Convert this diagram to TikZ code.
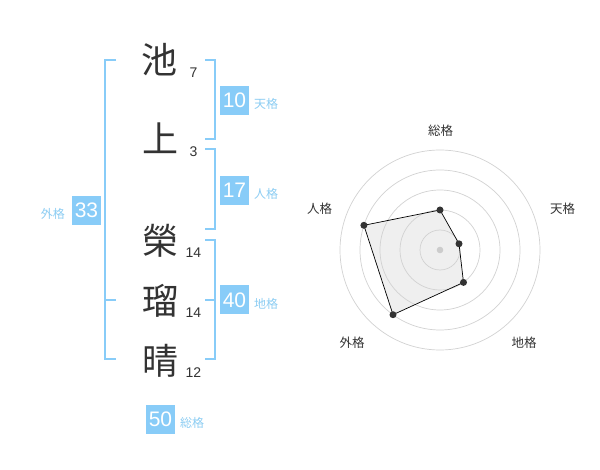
\documentclass[tikz,border=0pt]{standalone}
\usepackage{fontspec}
\setmainfont{Liberation Sans}
\newfontfamily\cjk{Noto Sans CJK JP}
\definecolor{kanjicol}{HTML}{333333}
\definecolor{boxblue}{HTML}{88CCF8}
\definecolor{lblblue}{HTML}{8CCDF3}
\definecolor{ringgray}{HTML}{D2D2D2}
\definecolor{cdotgray}{HTML}{CCCCCC}
\definecolor{polyfill}{HTML}{EFEFEF}
\begin{document}
\begin{tikzpicture}[x=1pt,y=-1pt,
  kanji/.style={font=\cjk\fontsize{36}{36}\selectfont, text=kanjicol, inner sep=0pt},
  strokenum/.style={font=\fontsize{14}{14}\selectfont, text=kanjicol, inner sep=0pt},
  scorebox/.style={fill=boxblue, text=white, minimum width=29pt, minimum height=29pt, inner sep=0pt, font=\fontsize{21}{21}\selectfont},
  kaku/.style={font=\cjk\fontsize{12}{12}\selectfont, text=lblblue, inner sep=0pt},
  bracket/.style={draw=boxblue, line width=2pt},
  ring/.style={draw=ringgray, line width=0.7pt},
  radarlbl/.style={font=\cjk\fontsize{12.5}{12.5}\selectfont, text=kanjicol, inner sep=0pt},
  dotnode/.style={circle, fill=kanjicol, minimum size=7pt, inner sep=0pt},
]
\useasboundingbox (0,0) rectangle (600,470);
\fill[white] (0,0) rectangle (600,470);

% name characters
\node[kanji] (k1) at (159,60) {池};
\node[kanji] (k2) at (160,138.5) {上};
\node[kanji] (k3) at (160,241) {榮};
\node[kanji] (k4) at (160,300.5) {瑠};
\node[kanji] (k5) at (160,360.5) {晴};

% stroke counts
\node[strokenum] (n1) at (193.5,73) {7};
\node[strokenum] (n2) at (193.5,152) {3};
\node[strokenum] (n3) at (193.5,253) {14};
\node[strokenum] (n4) at (193.5,312.5) {14};
\node[strokenum] (n5) at (193.5,372.5) {12};

% brackets
\draw[bracket] (116,60) -- (105,60) -- (105,359.5) -- (116,359.5);
\draw[bracket] (105,300) -- (116,300);
\draw[bracket] (205,60) -- (215,60) -- (215,139.5) -- (205,139.5);
\draw[bracket] (205,149.5) -- (215,149.5) -- (215,229.5) -- (205,229.5);
\draw[bracket] (205,240) -- (215,240) -- (215,359.5) -- (205,359.5);
\draw[bracket] (205,300) -- (215,300);

% score boxes and labels
\node[scorebox] (ten) at (234.5,100.5) {10};
\node[kaku, anchor=west] (tenl) at (254,104) {天格};
\node[scorebox] (jin) at (234.5,190.5) {17};
\node[kaku, anchor=west] (jinl) at (254,194) {人格};
\node[scorebox] (chi) at (234.5,300) {40};
\node[kaku, anchor=west] (chil) at (254,304) {地格};
\node[scorebox] (gai) at (86.5,210.5) {33};
\node[kaku, anchor=east] (gail) at (65,213.5) {外格};
\node[scorebox] (sou) at (160.5,419) {50};
\node[kaku, anchor=west] (soul) at (180,423) {総格};

% radar chart
\coordinate (c) at (440,250);
\coordinate (pS) at (440,210);
\coordinate (pT) at (459,243.8);
\coordinate (pC) at (463.5,282.4);
\coordinate (pG) at (393,314.7);
\coordinate (pJ) at (363.9,225.3);
\fill[polyfill] (pS) -- (pT) -- (pC) -- (pG) -- (pJ) -- cycle;
\foreach \r in {20,40,60,80,100} \draw[ring] (c) circle[radius=\r];
\draw[black, line width=0.7pt] (pS) -- (pT) -- (pC) -- (pG) -- (pJ) -- cycle;
\node[circle, fill=cdotgray, minimum size=6.6pt, inner sep=0pt] (cdot) at (c) {};
\node[dotnode] (dS) at (pS) {};
\node[dotnode] (dT) at (pT) {};
\node[dotnode] (dC) at (pC) {};
\node[dotnode] (dG) at (pG) {};
\node[dotnode] (dJ) at (pJ) {};

\node[radarlbl] (lS) at (440.5,130.5) {総格};
\node[radarlbl] (lT) at (562.5,208.5) {天格};
\node[radarlbl] (lC) at (524,342.5) {地格};
\node[radarlbl] (lG) at (352,342.5) {外格};
\node[radarlbl] (lJ) at (319.5,208.5) {人格};
\end{tikzpicture}
\end{document}
